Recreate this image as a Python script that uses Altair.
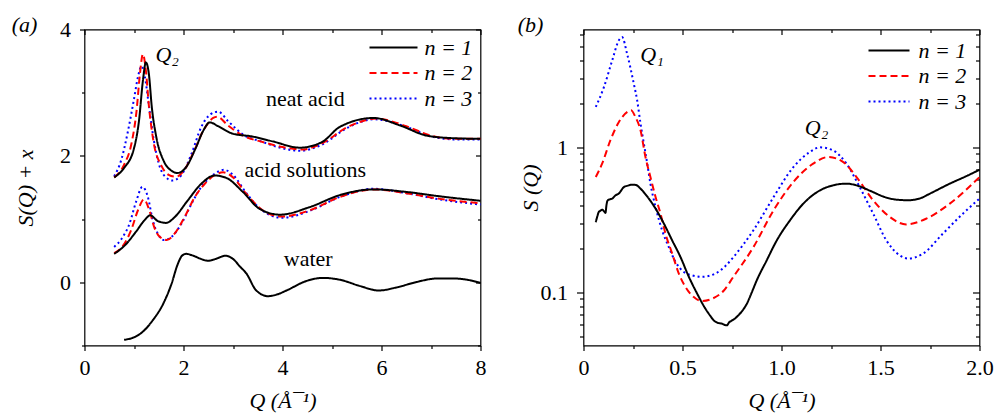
import altair as alt
import pandas as pd

FONT = "Liberation Serif"
FS = 22
W, H = 396, 316

legend_labels = ["n = 1", "n = 2", "n = 3"]
colors = ["#000000", "#ff0000", "#0000ff"]
dashes = [[1, 0], [7, 4], [2, 3]]

# ---------------- panel (a): S(Q) + x ----------------
neat_q1 = [0.6, 0.8, 1.0, 1.1, 1.18, 1.24, 1.3, 1.36, 1.45, 1.6, 1.75, 1.88, 2.05, 2.25, 2.4, 2.53, 2.7, 3.0, 3.37, 3.8, 4.35, 4.8, 5.16, 5.84, 6.38, 6.92, 7.45, 8.0]
neat_s1 = [1.66, 1.81, 2.12, 2.55, 3.19, 3.48, 3.30, 2.77, 2.30, 1.92, 1.77, 1.73, 1.82, 2.13, 2.40, 2.53, 2.47, 2.35, 2.31, 2.23, 2.13, 2.22, 2.46, 2.60, 2.48, 2.32, 2.28, 2.27]
neat_q2 = [0.6, 0.8, 0.95, 1.05, 1.12, 1.18, 1.24, 1.3, 1.4, 1.55, 1.7, 1.85, 2.0, 2.2, 2.4, 2.6, 2.68, 2.9, 3.2, 3.6, 4.0, 4.4, 4.8, 5.3, 5.9, 6.5, 7.0, 7.5, 8.0]
neat_s2 = [1.66, 1.86, 2.2, 2.7, 3.3, 3.61, 3.35, 2.8, 2.2, 1.85, 1.70, 1.67, 1.76, 2.05, 2.40, 2.60, 2.62, 2.48, 2.32, 2.22, 2.14, 2.10, 2.20, 2.45, 2.59, 2.47, 2.32, 2.27, 2.27]
neat_q3 = [0.6, 0.74, 0.88, 1.0, 1.08, 1.15, 1.22, 1.3, 1.4, 1.5, 1.62, 1.78, 1.96, 2.16, 2.36, 2.55, 2.7, 2.9, 3.2, 3.6, 4.0, 4.35, 4.8, 5.3, 5.85, 6.5, 7.0, 7.5, 8.0]
neat_s3 = [1.68, 1.93, 2.40, 2.90, 3.25, 3.42, 3.25, 2.80, 2.25, 1.88, 1.68, 1.61, 1.70, 2.03, 2.46, 2.66, 2.70, 2.55, 2.34, 2.22, 2.12, 2.08, 2.18, 2.44, 2.58, 2.46, 2.31, 2.26, 2.26]

sol_q1 = [0.6, 0.81, 1.04, 1.21, 1.33, 1.48, 1.65, 1.82, 2.09, 2.36, 2.63, 2.87, 3.2, 3.54, 3.95, 4.55, 5.16, 5.84, 6.5, 7.18, 8.0]
sol_s1 = [0.45, 0.58, 0.80, 0.98, 1.06, 0.97, 0.94, 1.03, 1.30, 1.56, 1.69, 1.65, 1.43, 1.16, 1.07, 1.19, 1.38, 1.47, 1.43, 1.36, 1.29]
sol_q2 = [0.6, 0.78, 0.94, 1.08, 1.2, 1.31, 1.41, 1.52, 1.66, 1.82, 2.02, 2.23, 2.43, 2.62, 2.8, 3.0, 3.27, 3.6, 3.98, 4.55, 5.16, 5.84, 6.5, 7.18, 8.0]
sol_s2 = [0.46, 0.58, 0.82, 1.14, 1.31, 1.14, 0.87, 0.72, 0.67, 0.77, 1.03, 1.35, 1.56, 1.69, 1.74, 1.66, 1.40, 1.14, 1.04, 1.14, 1.35, 1.47, 1.41, 1.32, 1.25]
sol_q3 = [0.6, 0.75, 0.91, 1.04, 1.17, 1.28, 1.38, 1.48, 1.6, 1.76, 1.96, 2.16, 2.36, 2.6, 2.82, 3.0, 3.27, 3.6, 4.0, 4.55, 5.16, 5.84, 6.5, 7.18, 8.0]
sol_s3 = [0.56, 0.69, 0.93, 1.27, 1.51, 1.35, 0.98, 0.77, 0.67, 0.72, 0.93, 1.24, 1.51, 1.70, 1.78, 1.70, 1.41, 1.13, 1.02, 1.13, 1.35, 1.48, 1.41, 1.31, 1.23]

water_q = [0.8, 1.0, 1.15, 1.38, 1.59, 1.76, 1.88, 1.97, 2.05, 2.2, 2.35, 2.5, 2.65, 2.85, 3.0, 3.14, 3.27, 3.47, 3.71, 3.9, 4.08, 4.48, 4.82, 5.16, 5.57, 5.94, 6.31, 6.71, 7.12, 7.46, 7.8, 8.0]
water_s = [-0.91, -0.87, -0.80, -0.60, -0.34, -0.02, 0.28, 0.42, 0.45, 0.42, 0.37, 0.34, 0.37, 0.42, 0.37, 0.25, 0.14, -0.13, -0.22, -0.19, -0.13, 0.02, 0.07, 0.04, -0.06, -0.13, -0.08, 0.005, 0.06, 0.06, 0.03, -0.01]

ann_a_text = ["neat acid", "acid solutions", "water"]
ann_a_q = [4.46, 4.46, 4.52]
ann_a_s = [2.9, 1.77, 0.37]
peak_a_text = ["Q₂"]
peak_a_q = [1.67]
peak_a_s = [3.6]

# ---------------- panel (b): S(Q), log scale ----------------
b_q1 = [0.062, 0.07, 0.077, 0.086, 0.094, 0.104, 0.111, 0.116, 0.122, 0.133, 0.145, 0.162, 0.178, 0.204, 0.225, 0.246, 0.265, 0.288, 0.31, 0.33, 0.364, 0.406, 0.448, 0.49, 0.532, 0.574, 0.616, 0.64, 0.658, 0.68, 0.7, 0.715, 0.724, 0.735, 0.75, 0.765, 0.78, 0.8, 0.825, 0.85, 0.875, 0.925, 0.976, 1.043, 1.11, 1.194, 1.26, 1.328, 1.395, 1.45, 1.52, 1.58, 1.64, 1.7, 1.75, 1.85, 1.93, 2.0]
b_s1 = [0.305, 0.335, 0.358, 0.366, 0.372, 0.362, 0.353, 0.40, 0.431, 0.438, 0.443, 0.467, 0.48, 0.532, 0.545, 0.553, 0.55, 0.519, 0.48, 0.443, 0.378, 0.298, 0.228, 0.175, 0.128, 0.098, 0.077, 0.069, 0.064, 0.0615, 0.0608, 0.0595, 0.0592, 0.062, 0.064, 0.066, 0.069, 0.074, 0.0835, 0.1, 0.121, 0.166, 0.228, 0.314, 0.409, 0.505, 0.547, 0.562, 0.538, 0.50, 0.455, 0.436, 0.432, 0.445, 0.48, 0.562, 0.63, 0.70]
b_q2 = [0.062, 0.094, 0.136, 0.178, 0.22, 0.24, 0.262, 0.288, 0.313, 0.338, 0.364, 0.389, 0.414, 0.448, 0.481, 0.515, 0.557, 0.599, 0.65, 0.709, 0.757, 0.858, 0.96, 1.06, 1.16, 1.236, 1.312, 1.379, 1.463, 1.547, 1.63, 1.73, 1.85, 2.0]
b_s2 = [0.624, 0.772, 1.12, 1.49, 1.75, 1.80, 1.62, 1.31, 0.857, 0.624, 0.454, 0.349, 0.254, 0.185, 0.135, 0.109, 0.0928, 0.0871, 0.0904, 0.103, 0.128, 0.205, 0.368, 0.577, 0.772, 0.858, 0.792, 0.624, 0.431, 0.331, 0.294, 0.322, 0.409, 0.624]
b_q3 = [0.062, 0.103, 0.145, 0.178, 0.195, 0.22, 0.254, 0.271, 0.288, 0.305, 0.322, 0.338, 0.364, 0.397, 0.431, 0.465, 0.507, 0.549, 0.599, 0.667, 0.717, 0.757, 0.858, 0.96, 1.06, 1.143, 1.194, 1.26, 1.328, 1.395, 1.463, 1.53, 1.597, 1.64, 1.715, 1.815, 1.916, 2.0]
b_s3 = [1.90, 2.60, 3.98, 5.46, 5.76, 4.43, 2.75, 2.11, 1.46, 1.06, 0.772, 0.562, 0.388, 0.268, 0.205, 0.162, 0.138, 0.131, 0.128, 0.135, 0.152, 0.175, 0.268, 0.454, 0.731, 0.929, 1.0, 0.953, 0.772, 0.532, 0.349, 0.228, 0.18, 0.171, 0.185, 0.254, 0.349, 0.443]

peak_b_text = ["Q₁", "Q₂"]
peak_b_q = [0.346, 1.177]
peak_b_s = [4.31, 1.35]

panel_labels = ["(a)", "(b)"]
x_title = "Q (Å¯¹)"
y_titles = ["S(Q) + x", "S (Q)"]

# tick values
a_x_major = [0, 2, 4, 6, 8]
a_x_minor = [1, 3, 5, 7]
a_y_major = [0, 2, 4]
a_y_minor = [-1, 1, 3]
b_x_major = [0, 0.5, 1.0, 1.5, 2.0]
b_x_minor = [0.25, 0.75, 1.25, 1.75]
b_y_major = [0.1, 1]
b_y_minor = [0.05, 0.06, 0.07, 0.08, 0.09, 0.2, 0.3, 0.4, 0.5, 0.6, 0.7, 0.8, 0.9, 2, 3, 4, 5, 6]


def frame(series):
    rows = []
    for qs, ss, n, grp in series:
        for q, s in zip(qs, ss):
            rows.append({"Q": q, "S": s, "n": n, "grp": grp})
    return pd.DataFrame(rows)


df_a = frame([
    (neat_q3, neat_s3, legend_labels[2], "neat"),
    (sol_q3, sol_s3, legend_labels[2], "sol"),
    (neat_q2, neat_s2, legend_labels[1], "neat"),
    (sol_q2, sol_s2, legend_labels[1], "sol"),
    (neat_q1, neat_s1, legend_labels[0], "neat"),
    (sol_q1, sol_s1, legend_labels[0], "sol"),
    (water_q, water_s, legend_labels[0], "water"),
])
df_b = frame([
    (b_q3, b_s3, legend_labels[2], "b"),
    (b_q2, b_s2, legend_labels[1], "b"),
    (b_q1, b_s1, legend_labels[0], "b"),
])
ann_a = pd.DataFrame({"Q": ann_a_q, "S": ann_a_s, "t": ann_a_text})
pk_a = pd.DataFrame({"Q": peak_a_q, "S": peak_a_s, "t": peak_a_text})
pk_b = pd.DataFrame({"Q": peak_b_q, "S": peak_b_s, "t": peak_b_text})

AX = dict(labelFont=FONT, labelFontSize=FS, labelColor="black", labelFlush=False,
          titleFont=FONT, titleFontSize=FS, titleColor="black",
          titleFontWeight="normal", tickColor="black", tickWidth=1.2,
          domain=False, grid=False)


def tick_axis(orient, values, size, offset=0):
    kw = dict(AX, orient=orient, values=values, labels=False, tickSize=size, title=None)
    if offset:
        kw["offset"] = offset
    return alt.Axis(**kw)


def panel(df, anns, plabel, plabel_x, xscale, yscale, xmaj, xmin, ymaj, ymin,
          xexpr, yexpr, ytitle, ytitle_x, leg_x, leg_y, sym_len, lab_off,
          ymaj_size, ymin_size):
    leg = alt.Legend(title=None, orient="none", legendX=leg_x, legendY=leg_y,
                     symbolType="stroke", symbolSize=sym_len * sym_len,
                     symbolStrokeWidth=2, labelFont=FONT, labelFontSize=FS,
                     labelFontStyle="italic",
                     labelColor="black", labelOffset=lab_off, clipHeight=25,
                     rowPadding=0.5, padding=0)
    lines = alt.Chart(df).mark_line(strokeWidth=2, interpolate="monotone").encode(
        x=alt.X("Q:Q", scale=xscale, axis=alt.Axis(
            orient="bottom", values=xmaj, labelExpr=xexpr, tickSize=5,
            labelPadding=24, labelBaseline="alphabetic", title=x_title,
            titleFontStyle="italic",
            titleY=62, titleBaseline="alphabetic", **AX)),
        y=alt.Y("S:Q", scale=yscale, axis=alt.Axis(
            orient="left", values=ymaj, labelExpr=yexpr, tickSize=ymaj_size,
            labelPadding=9, title=ytitle, titleX=ytitle_x, titleY=H / 2,
            titleAngle=270, titleAlign="center", titleBaseline="middle",
            titleFontStyle="italic", **AX)),
        color=alt.Color("n:N", scale=alt.Scale(domain=legend_labels, range=colors), legend=leg),
        strokeDash=alt.StrokeDash("n:N", scale=alt.Scale(domain=legend_labels, range=dashes), legend=leg),
        detail="grp:N",
    )
    layers = [lines]
    for ann, style in anns:
        layers.append(alt.Chart(ann).mark_text(
            font=FONT, fontSize=FS, color="black", fontStyle=style).encode(
            x=alt.X("Q:Q", scale=xscale, axis=None),
            y=alt.Y("S:Q", scale=yscale, axis=None),
            text="t:N",
        ))
    layers.append(alt.Chart(pd.DataFrame({"t": [plabel]})).mark_text(
        font=FONT, fontSize=FS, color="black", align="center", baseline="middle",
        fontStyle="italic"
    ).encode(x=alt.value(plabel_x), y=alt.value(-5), text="t:N"))

    def ticks(xa, ya):
        return alt.Chart(df).mark_point(opacity=0).encode(
            x=alt.X("Q:Q", scale=xscale, axis=xa),
            y=alt.Y("S:Q", scale=yscale, axis=ya),
        )

    layers.append(ticks(tick_axis("bottom", xmin, 3), tick_axis("left", ymin, ymin_size)))
    layers.append(ticks(tick_axis("bottom", xmaj, 5, -H), tick_axis("left", ymaj, ymaj_size, -W)))
    layers.append(ticks(tick_axis("bottom", xmin, 3, -H), tick_axis("left", ymin, ymin_size, -W)))
    return alt.layer(*layers).resolve_axis(
        x="independent", y="independent").properties(width=W, height=H)


pa = panel(df_a, [(ann_a, "normal"), (pk_a, "italic")], panel_labels[0], -60,
           alt.Scale(domain=[0, 8], nice=False, zero=False),
           alt.Scale(domain=[-1, 4], nice=False, zero=False),
           a_x_major, a_x_minor, a_y_major, a_y_minor,
           "format(datum.value, 'd')", "format(datum.value, 'd')",
           y_titles[0], -59, 284, 5.5, 48, 6, 5, 3)
pb = panel(df_b, [(pk_b, "italic")], panel_labels[1], -53,
           alt.Scale(domain=[0, 2], nice=False, zero=False),
           alt.Scale(type="log", domain=[0.043, 6.5], nice=False),
           b_x_major, b_x_minor, b_y_major, b_y_minor,
           "datum.value == 0 ? '0' : format(datum.value, '.1f')",
           "format(datum.value, '~g')",
           y_titles[1], -53, 284, 8.5, 41, 8, 7, 4)

chart = alt.hconcat(pa, pb, spacing=103, bounds="flush").resolve_scale(
    color="independent", strokeDash="independent"
).resolve_legend(color="independent", strokeDash="independent").properties(
    padding={"left": 10.5, "top": 12.5, "right": 0, "bottom": 0},
    autosize=alt.AutoSizeParams(type="pad"),
).configure_view(stroke="black", strokeWidth=1.2)

chart.save("out.html", embed_options={"renderer": "svg", "actions": False})
